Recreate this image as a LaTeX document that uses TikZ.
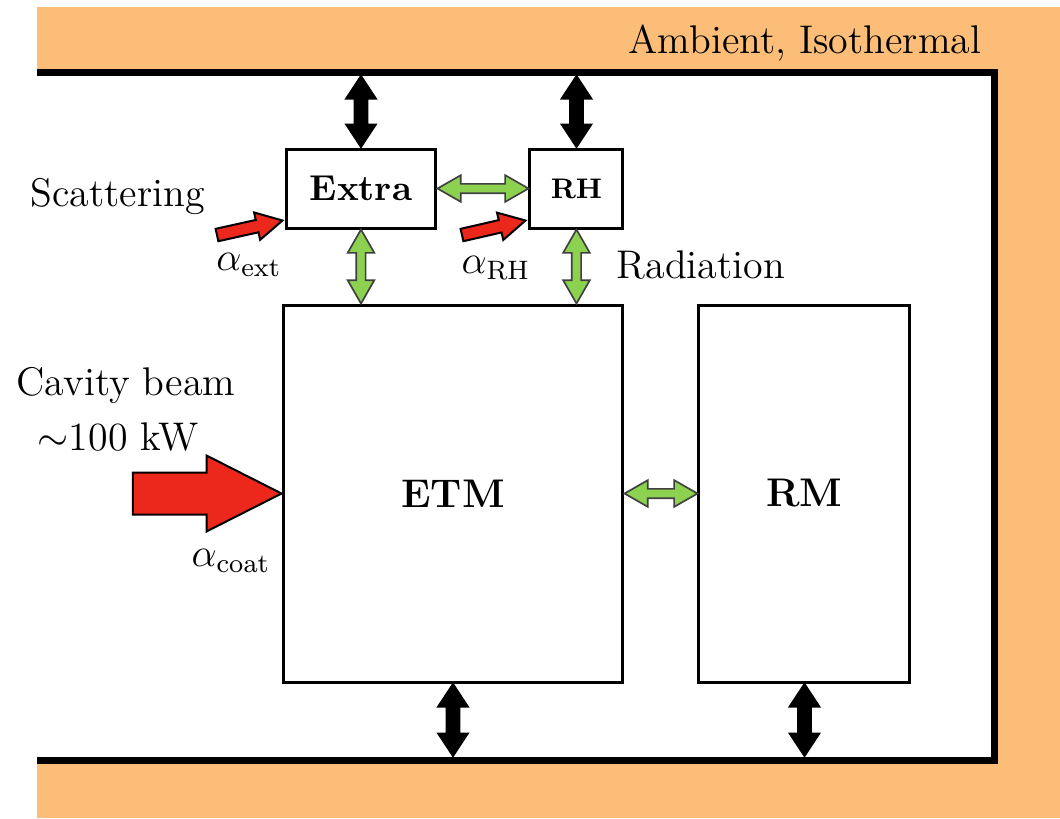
\documentclass[tikz,border=0pt]{standalone}
\usetikzlibrary{calc}
\definecolor{amb}{RGB}{251,189,120}
\definecolor{grn}{RGB}{140,210,80}
\definecolor{rd}{RGB}{236,40,28}
\newcommand\singlefat[6]{%
  \path (#2) coordinate (fat) (#1) coordinate (fas);
  \path ($(fat)!#4!(fas)$) coordinate (fah);
  \draw[#3] (fat) -- ($(fah)!#5!90:(fat)$) -- ($(fah)!#6!90:(fat)$) -- ($(fas)!#6!90:(fat)$)
    -- ($(fas)!#6!-90:(fat)$) -- ($(fah)!#6!-90:(fat)$) -- ($(fah)!#5!-90:(fat)$) -- cycle;}
\newcommand\doublefat[6]{%
  \path (#1) coordinate (fas) (#2) coordinate (fat);
  \path ($(fat)!#4!(fas)$) coordinate (fah) ($(fas)!#4!(fat)$) coordinate (fag);
  \draw[#3] (fat) -- ($(fah)!#5!90:(fat)$) -- ($(fah)!#6!90:(fat)$) -- ($(fag)!#6!-90:(fas)$)
    -- ($(fag)!#5!-90:(fas)$) -- (fas) -- ($(fag)!#5!90:(fas)$) -- ($(fag)!#6!90:(fas)$)
    -- ($(fah)!#6!-90:(fat)$) -- ($(fah)!#5!-90:(fat)$) -- cycle;}
\tikzset{
  box/.style={draw, line width=0.9pt, inner sep=0pt, fill=white, font=\fontsize{12}{14}\selectfont\bfseries},
  lbl/.style={inner sep=0pt, font=\fontsize{12}{14}\selectfont},
  blk/.style={draw=black, fill=black, line width=0.4pt, line join=miter},
  grnarr/.style={draw=black!75, fill=grn, line width=0.5pt, line join=miter},
  redarr/.style={draw=black, fill=rd, line width=0.6pt, line join=miter},
  wall/.style={line width=2.1pt, line join=miter}
}
\begin{document}
\begin{tikzpicture}[x=0.3pt,y=-0.3pt]
\useasboundingbox (0,0) rectangle (1060,818);
\fill[amb] (37,7) rectangle (1060,818);
\fill[white] (37,72) rectangle (995,760);
\draw[wall] (37,72) -- (995,72) -- (995,760) -- (37,760);
\coordinate (wallT) at (0,75.5);
\coordinate (wallB) at (0,756.5);

\node[lbl, anchor=base east] (amb) at (982,53) {Ambient, Isothermal};

\node[box, minimum width=45pt, minimum height=23.7pt, font=\fontsize{10.8}{13}\selectfont\bfseries] (extra) at (361,188.5) {Extra};
\node[box, minimum width=27.9pt, minimum height=23.7pt, font=\fontsize{8.5}{10}\selectfont\bfseries] (rh) at (576.5,188.5) {RH};
\node[box, minimum width=102pt, minimum height=113.1pt] (etm) at (453,493.5) {ETM};
\node[box, minimum width=63.3pt, minimum height=113.1pt] (rm) at (804.5,493.5) {RM};

\node[lbl, anchor=base west] (scat) at (30,206) {Scattering};
\node[lbl, anchor=base] (aext) at (249,270) {$\alpha_{\mathrm{ext}}$};
\node[lbl, anchor=base] (arh) at (496,273) {$\alpha_{\mathrm{RH}}$};
\node[lbl, anchor=base west] (rad) at (616,278) {Radiation};
\node[lbl, anchor=base] (cav) at (126,395) {Cavity beam};
\node[lbl, anchor=base] (pow) at (118,450) {$\sim$100 kW};
\node[lbl, anchor=base] (acoat) at (231,566) {$\alpha_{\mathrm{coat}}$};

% black exchange with ambient
\coordinate (tE) at (extra.north |- wallT);
\coordinate (tR) at (rh.north |- wallT);
\coordinate (bE) at (etm.south |- wallB);
\coordinate (bR) at (rm.south |- wallB);
\doublefat{tE}{extra.north}{blk}{7pt}{4.6pt}{2pt}
\doublefat{tR}{rh.north}{blk}{7pt}{4.6pt}{2pt}
\doublefat{etm.south}{bE}{blk}{7pt}{4.6pt}{2pt}
\doublefat{rm.south}{bR}{blk}{7pt}{4.6pt}{2pt}

% green radiation
\doublefat{extra.east}{rh.west}{grnarr}{7pt}{4pt}{1.4pt}
\coordinate (eE) at (extra.south |- etm.north);
\coordinate (eR) at (rh.south |- etm.north);
\doublefat{extra.south}{eE}{grnarr}{7pt}{4pt}{1.4pt}
\doublefat{rh.south}{eR}{grnarr}{7pt}{4pt}{1.4pt}
\doublefat{etm.east}{rm.west}{grnarr}{7pt}{4pt}{1.4pt}

% red absorbed power
\coordinate (sE) at (217,235);
\coordinate (sR) at (462,235);
\coordinate (beam) at (133,493.5);
\singlefat{sE}{$(extra.south west)+(-2,-9)$}{redarr}{7.8pt}{4.2pt}{1.9pt}
\singlefat{sR}{$(rh.south west)+(-3,-9)$}{redarr}{7.8pt}{4.2pt}{1.9pt}
\singlefat{beam}{etm.west}{redarr}{22.5pt}{11.4pt}{6.3pt}
\end{tikzpicture}
\end{document}
